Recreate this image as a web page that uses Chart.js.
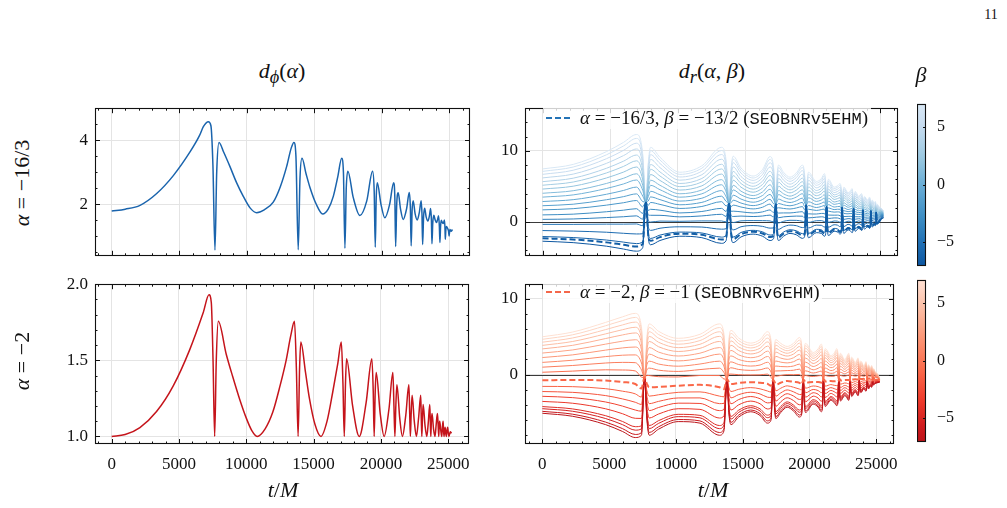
<!DOCTYPE html>
<html>
<head>
<meta charset="utf-8">
<script src="https://cdn.jsdelivr.net/npm/chart.js@4.4.1/dist/chart.umd.min.js"></script>
<style>
body { margin: 0; background: #fff; width: 1007px; height: 508px; position: relative; overflow: hidden; font-family: 'Liberation Serif', serif; color: #111; }
canvas { position: absolute; }
.lbl { position: absolute; white-space: nowrap; transform: translate(-50%, -50%); font-size: 22px; }
.rot { transform: translate(-50%, -50%) rotate(-90deg); }
.leg { position: absolute; display: flex; align-items: center; white-space: nowrap; font-size: 19px; background: rgba(255,255,255,0.8); padding: 0 3px; }
.leg svg { margin-right: 10px; }
.tt { font-family: 'Liberation Mono', monospace; font-size: 17px; }
i { font-style: italic; }
</style>
</head>
<body>
<canvas id="tl" width="445" height="182" style="left:35px;top:91px"></canvas>
<canvas id="bl" width="445" height="217" style="left:35px;top:267px"></canvas>
<canvas id="tr" width="443" height="182" style="left:465px;top:91px"></canvas>
<canvas id="br" width="443" height="217" style="left:465px;top:267px"></canvas>
<canvas id="cbTop" width="44" height="187" style="left:917px;top:91px"></canvas>
<canvas id="cbBot" width="44" height="187" style="left:917px;top:267px"></canvas>

<div class="lbl" style="left:991px;top:15px;font-size:14px">11</div>
<div class="lbl" style="left:282px;top:73px"><i>d</i><sub><i>ϕ</i></sub>(<i>α</i>)</div>
<div class="lbl" style="left:712px;top:73px"><i>d</i><sub><i>r</i></sub>(<i>α</i>, <i>β</i>)</div>
<div class="lbl" style="left:921px;top:75px"><i>β</i></div>
<div class="lbl rot" style="left:22px;top:183px"><i>α</i> = −16/3</div>
<div class="lbl rot" style="left:22px;top:361px"><i>α</i> = −2</div>
<div class="lbl" style="left:283px;top:490px"><i>t</i>/<i>M</i></div>
<div class="lbl" style="left:713px;top:490px"><i>t</i>/<i>M</i></div>

<div class="leg" style="left:543px;top:107px">
  <svg width="24" height="14"><line x1="0" y1="7" x2="24" y2="7" stroke="#2473b6" stroke-width="2" stroke-dasharray="6 3"/></svg>
  <span><i>α</i> = −16/3, <i>β</i> = −13/2 (<span class="tt">SEOBNRv5EHM</span>)</span>
</div>
<div class="leg" style="left:543px;top:281px">
  <svg width="24" height="14"><line x1="0" y1="7" x2="24" y2="7" stroke="#f4674a" stroke-width="2" stroke-dasharray="6 3"/></svg>
  <span><i>α</i> = −2, <i>β</i> = −1 (<span class="tt">SEOBNRv6EHM</span>)</span>
</div>

<script>
// d_phi, alpha = -16/3
const tPhiA = [0, 1000, 2096, 3333, 4563, 5800, 6500, 6790, 7160, 7350, 7500, 7650, 7780, 7950, 8300, 8763, 9250, 9750, 10250, 10740,
  11300, 11970, 12500, 12960, 13300, 13500, 13650, 13820, 13950, 14100, 14400, 14690, 15150, 15630, 16050, 16420, 16750, 17040, 17170, 17280,
  17380, 17500, 17900, 18390, 18900, 19330, 19450, 19530, 19600, 19680, 19950, 20240, 20600, 20890, 20980, 21040, 21120, 21230, 21400, 21600,
  21850, 22050, 22130, 22190, 22260, 22340, 22480, 22640, 22800, 22930, 22990, 23040, 23110, 23190, 23300, 23430, 23550, 23630, 23690, 23730,
  23790, 23870, 23970, 24070, 24150, 24220, 24280, 24320, 24370, 24420, 24500, 24570, 24620, 24660, 24700, 24720, 24760, 24810, 24880, 24960,
  25000, 25060, 25150, 25250];
const dPhiA = [1.78, 1.84, 1.96, 2.33, 2.89, 3.63, 4.14, 4.42, 4.575, 4.45, 3.2, 0.56, 3.0, 3.93, 3.62, 3.17, 2.67, 2.24, 1.88, 1.73,
  1.82, 2.06, 2.55, 3.17, 3.75, 3.93, 3.5, 0.57, 2.8, 3.43, 2.95, 2.52, 2.0, 1.69, 1.85, 2.24, 2.85, 3.43, 3.0, 0.62,
  2.5, 3.03, 2.2, 1.64, 2.1, 3.03, 2.4, 0.65, 2.2, 2.67, 2.0, 1.57, 2.0, 2.67, 2.2, 0.67, 2.0, 2.35, 1.85, 1.52,
  1.85, 2.36, 1.9, 0.69, 1.8, 2.1, 1.7, 1.5, 1.75, 2.1, 1.7, 0.73, 1.6, 1.87, 1.6, 1.47, 1.65, 1.86, 1.5, 0.76,
  1.4, 1.65, 1.5, 1.42, 1.52, 1.63, 1.3, 0.8, 1.3, 1.49, 1.42, 1.39, 1.45, 1.5, 1.2, 0.9, 1.2, 1.3, 1.25, 1.15,
  1.0, 1.2, 1.15, 1.2];

// d_phi, alpha = -2
const tPhiB = [0, 1000, 2096, 3333, 4563, 5800, 6790, 7230, 7400, 7530, 7650, 7770, 7920, 8510, 9000, 9500, 10000, 10400, 10810,
  11400, 11970, 12500, 12960, 13300, 13580, 13720, 13850, 13960, 14050, 14400, 14690, 15100, 15550, 16000, 16420, 16800, 17060, 17180, 17280,
  17370, 17450, 17900, 18390, 18900, 19330, 19430, 19500, 19580, 19650, 19950, 20240, 20600, 20890, 20970, 21040, 21110, 21190, 21400, 21600,
  21850, 22080, 22140, 22190, 22250, 22320, 22480, 22640, 22800, 22960, 23000, 23040, 23090, 23140, 23280, 23410, 23520, 23630, 23670, 23710,
  23750, 23800, 23910, 24020, 24110, 24200, 24250, 24300, 24330, 24370, 24450, 24520, 24570, 24620, 24650, 24690, 24730, 24770, 24820, 24860,
  24910, 24960, 25010, 25060, 25150, 25250];
const dPhiB = [1.0, 1.012, 1.058, 1.163, 1.33, 1.57, 1.81, 1.93, 1.88, 1.5, 1.0, 1.5, 1.756, 1.54, 1.39, 1.246, 1.12, 1.04, 1.0,
  1.05, 1.16, 1.33, 1.5, 1.66, 1.756, 1.45, 1.0, 1.45, 1.62, 1.42, 1.25, 1.08, 1.0, 1.1, 1.29, 1.48, 1.62, 1.35, 1.0,
  1.35, 1.51, 1.2, 1.0, 1.22, 1.51, 1.3, 1.0, 1.3, 1.42, 1.15, 1.0, 1.18, 1.42, 1.2, 1.0, 1.2, 1.34, 1.12, 1.0,
  1.14, 1.34, 1.15, 1.0, 1.15, 1.27, 1.1, 1.0, 1.12, 1.27, 1.12, 1.0, 1.12, 1.21, 1.07, 1.0, 1.09, 1.21, 1.1, 1.0,
  1.1, 1.15, 1.05, 1.0, 1.08, 1.15, 1.08, 1.0, 1.07, 1.1, 1.04, 1.0, 1.06, 1.1, 1.05, 1.0, 1.04, 1.06, 1.02, 1.0,
  1.04, 1.06, 1.02, 1.0, 1.03, 1.02];

// d_r time grid (shared by both right panels)
const tR = [0, 2270, 4740, 6000, 6960, 7420, 7650, 7830, 8000, 8700, 10170, 11800,
  13260, 13600, 13820, 13970, 14120, 14700, 15600, 16300,
  16850, 17120, 17280, 17380, 17480, 17850, 18330, 18800,
  19250, 19420, 19530, 19610, 19700, 20280, 20650,
  20880, 20970, 21040, 21100, 21180, 21600, 21850,
  22040, 22130, 22190, 22250, 22320, 22630, 22780,
  22930, 22990, 23040, 23090, 23160, 23420, 23520,
  23630, 23690, 23730, 23770, 23850, 24060, 24140,
  24220, 24280, 24320, 24360, 24420, 24560,
  24650, 24690, 24720, 24750, 24800, 24900, 25050, 25250];

// alpha = -16/3 : highest beta curve and lowest beta curve
const drAHigh = [7.46, 8.1, 9.9, 11.2, 12.3, 9.6, 2.8, 8.3, 10.5, 9.1, 7.0, 7.9,
  10.5, 8.6, 2.6, 7.6, 9.25, 7.6, 6.46, 7.4,
  9.2, 7.6, 2.5, 6.7, 8.0, 7.0, 6.3, 6.9,
  8.0, 6.5, 2.35, 5.8, 7.0, 5.7, 6.1,
  6.8, 5.6, 2.2, 5.0, 6.0, 4.9, 5.1,
  5.4, 4.5, 2.0, 4.1, 4.9, 4.1, 4.3,
  4.7, 3.9, 1.85, 3.5, 4.3, 3.6, 3.8,
  4.0, 3.4, 1.7, 3.0, 3.6, 3.1, 3.2,
  3.5, 3.0, 1.55, 2.6, 3.1, 2.7,
  2.9, 2.5, 1.4, 2.2, 2.5, 2.2, 2.0, 1.6];
const drALow = [-2.7, -2.9, -3.4, -3.8, -4.1, -3.6, 2.8, -2.2, -3.2, -2.6, -2.0, -2.2,
  -3.0, -2.6, 2.6, -2.0, -2.9, -2.1, -1.7, -2.0,
  -2.6, -2.3, 2.5, -1.7, -2.6, -2.0, -1.6, -1.8,
  -2.3, -2.0, 2.35, -1.3, -2.2, -1.5, -1.6,
  -2.0, -1.7, 2.2, -1.0, -1.9, -1.3, -1.4,
  -1.7, -1.4, 2.0, -0.8, -1.6, -1.1, -1.2,
  -1.5, -1.2, 1.85, -0.6, -1.3, -0.9, -1.0,
  -1.2, -0.9, 1.7, -0.4, -1.0, -0.7, -0.75,
  -0.9, -0.6, 1.55, -0.2, -0.7, -0.4,
  -0.5, -0.3, 1.4, 0.1, -0.3, -0.1, 0.3, 0.6];
// starting value of every drawn line (t = 0), lowest beta first
const drAStart = [-2.7, -2.04, -1.2, -0.33, 0.375, 1.0, 1.71, 2.29, 2.88, 3.5, 4.04, 4.63, 5.17, 5.67, 6.2, 6.7, 7.12, 7.46];
const drADashStart = -2.29;
const betaA = -6.5;

// alpha = -2
const drBHigh = [4.97, 5.6, 6.87, 7.6, 8.06, 6.3, -0.4, 5.0, 6.67, 5.7, 4.77, 5.3,
  6.67, 5.3, -0.6, 4.6, 5.82, 4.8, 4.14, 4.6,
  5.64, 4.5, -0.7, 3.6, 4.6, 4.1, 3.7, 4.1,
  4.87, 3.8, -0.7, 3.2, 4.1, 2.9, 3.4,
  4.0, 3.2, -0.75, 2.6, 3.4, 2.5, 2.8,
  3.4, 2.7, -0.8, 2.1, 2.8, 2.0, 2.3,
  2.8, 2.2, -0.8, 1.6, 2.3, 1.6, 1.8,
  2.2, 1.7, -0.8, 1.1, 1.8, 1.2, 1.3,
  1.7, 1.2, -0.8, 0.7, 1.3, 0.8,
  1.2, 0.8, -0.8, 0.3, 0.8, 0.4, 0.2, -0.5];
const drBLow = [-5.1, -5.5, -6.6, -7.5, -8.3, -8.0, -0.4, -6.0, -8.0, -7.2, -6.2, -6.4,
  -8.0, -7.4, -0.6, -5.2, -6.6, -5.6, -4.9, -5.4,
  -6.4, -6.0, -0.7, -4.4, -5.8, -5.0, -4.3, -4.8,
  -5.6, -5.2, -0.7, -3.8, -5.0, -3.9, -4.3,
  -4.9, -4.5, -0.75, -3.1, -4.2, -3.4, -3.7,
  -4.1, -3.7, -0.8, -2.6, -3.5, -2.8, -3.0,
  -3.4, -3.0, -0.8, -2.2, -2.9, -2.3, -2.5,
  -2.8, -2.4, -0.8, -1.8, -2.4, -1.9, -2.0,
  -2.2, -1.9, -0.8, -1.4, -1.9, -1.5,
  -1.7, -1.4, -0.8, -1.1, -1.4, -1.2, -1.1, -1.0];
const drBStart = [-5.1, -4.85, -4.5, -4.22, -3.54, -2.87, -2.24, -1.56, 0.3, 0.97, 1.6, 2.24, 2.83, 3.38, 3.84, 4.26, 4.64, 4.97];
const drBDashStart = -0.76;
const betaB = -1;

const betaRange = [-7, 7];

// colormaps
const BLUES = ['#f7fbff', '#deebf7', '#c6dbef', '#9ecae1', '#6baed6', '#4292c6', '#2171b5', '#08519c', '#08306b'];
const REDS = ['#fff5f0', '#fee0d2', '#fcbba1', '#fc9272', '#fb6a4a', '#ef3b2c', '#cb181d', '#a50f15', '#67000d'];
function hex(h) { return [1, 3, 5].map(k => parseInt(h.substr(k, 2), 16)); }
function cmap(stops, c) {
  const p = Math.max(0, Math.min(1, c)) * (stops.length - 1);
  const i = Math.min(stops.length - 2, Math.floor(p)), f = p - i;
  const a = hex(stops[i]), b = hex(stops[i + 1]);
  return 'rgb(' + a.map((v, k) => Math.round(v + (b[k] - v) * f)).join(',') + ')';
}
// beta -> colour (low beta dark)
function betaColor(stops, lo, hi, beta) {
  const f = (beta - betaRange[0]) / (betaRange[1] - betaRange[0]);
  return cmap(stops, hi - (hi - lo) * f);
}

function range(a, b, s) { const r = []; for (let v = a; v <= b + 1e-9; v += s) r.push(+v.toFixed(6)); return r; }
const minus = v => String(v).replace('-', '\u2212');

const frameTicks = {
  id: 'frameTicks',
  beforeDatasetsDraw(chart, args, o) {
    const { ctx, chartArea: a, scales } = chart;
    if (o.gradient) {
      const g = ctx.createLinearGradient(0, a.top, 0, a.bottom);
      for (let k = 0; k <= 20; k++) g.addColorStop(k / 20, cmap(o.gradient.stops, o.gradient.lo + (o.gradient.hi - o.gradient.lo) * k / 20));
      ctx.fillStyle = g;
      ctx.fillRect(a.left, a.top, a.width, a.height);
    }
    if (o.zeroLine) {
      const y = Math.round(scales.y.getPixelForValue(0)) + 0.5;
      ctx.save();
      ctx.strokeStyle = '#3a3a3a'; ctx.lineWidth = 1;
      ctx.beginPath(); ctx.moveTo(a.left, y); ctx.lineTo(a.right, y); ctx.stroke();
      ctx.restore();
    }
  },
  afterDraw(chart, args, o) {
    const { ctx, chartArea: a, scales } = chart;
    ctx.save();
    ctx.strokeStyle = '#111'; ctx.lineWidth = 1;
    const seg = (x1, y1, x2, y2) => { ctx.beginPath(); ctx.moveTo(x1, y1); ctx.lineTo(x2, y2); ctx.stroke(); };
    const xs = (vals, len) => (vals || []).forEach(v => {
      const x = Math.round(scales.x.getPixelForValue(v)) + 0.5;
      if (x < a.left || x > a.right) return;
      seg(x, a.bottom, x, a.bottom - len); seg(x, a.top, x, a.top + len);
    });
    const ys = (vals, len, sides) => (vals || []).forEach(v => {
      const y = Math.round(scales.y.getPixelForValue(v)) + 0.5;
      if (y < a.top || y > a.bottom) return;
      if (sides !== 'right') seg(a.left, y, a.left + len, y);
      seg(a.right, y, a.right - len, y);
    });
    xs(o.xMaj, 5); xs(o.xMin, 2.5);
    ys(o.yMaj, o.cb ? 3 : 5, o.cb ? 'right' : 'both'); ys(o.yMin, 2.5, 'both');
    ctx.lineWidth = 1.1;
    ctx.strokeRect(Math.round(a.left) + 0.5, Math.round(a.top) + 0.5, Math.round(a.width) - 1, Math.round(a.height) - 1);
    ctx.restore();
  }
};
Chart.register(frameTicks);

const font = { family: "'Liberation Serif', serif", size: 17 };

function panel(id, datasets, cfg) {
  return new Chart(document.getElementById(id), {
    type: 'line',
    data: { datasets },
    options: {
      responsive: false, animation: false, devicePixelRatio: 1,
      layout: { padding: { top: 10, right: 10, left: 0, bottom: 0 } },
      plugins: {
        legend: { display: false }, tooltip: { enabled: false },
        frameTicks: { xMaj: cfg.xMaj, xMin: cfg.xMin, yMaj: cfg.yMaj, yMin: cfg.yMin, zeroLine: cfg.zeroLine }
      },
      elements: { point: { radius: 0 }, line: { cubicInterpolationMode: 'monotone' } },
      scales: {
        x: {
          type: 'linear', min: cfg.xr[0], max: cfg.xr[1],
          border: { display: false },
          grid: { color: '#e4e4e4', drawTicks: false, lineWidth: 1 },
          afterBuildTicks: s => { s.ticks = cfg.xMaj.map(v => ({ value: v })); },
          afterFit: s => { s.height = cfg.showX ? 40 : 6; },
          ticks: { display: cfg.showX, font, color: '#111', padding: 10, maxRotation: 0, autoSkip: false, callback: v => String(v) }
        },
        y: {
          min: cfg.yr[0], max: cfg.yr[1],
          border: { display: false },
          grid: { color: '#e4e4e4', drawTicks: false, lineWidth: 1 },
          afterBuildTicks: s => { s.ticks = cfg.yMaj.map(v => ({ value: v })); },
          afterFit: s => { s.width = 60; },
          ticks: { font, color: '#111', padding: 7, callback: cfg.yFmt || minus }
        }
      }
    }
  });
}

function colorbar(id, stops, lo, hi) {
  return new Chart(document.getElementById(id), {
    type: 'line',
    data: { datasets: [] },
    options: {
      responsive: false, animation: false, devicePixelRatio: 1,
      layout: { padding: { top: 10, right: 0, left: 0, bottom: 9 } },
      plugins: {
        legend: { display: false }, tooltip: { enabled: false },
        frameTicks: { yMaj: [-5, 0, 5], cb: true, gradient: { stops, lo, hi } }
      },
      scales: {
        x: { display: false, min: 0, max: 1, type: 'linear' },
        y: {
          position: 'right', min: betaRange[0], max: betaRange[1],
          border: { display: false }, grid: { display: false },
          afterBuildTicks: s => { s.ticks = [-5, 0, 5].map(v => ({ value: v })); },
          afterFit: s => { s.width = 35; },
          ticks: { font: { family: "'Liberation Serif', serif", size: 16 }, color: '#111', padding: 3, callback: minus }
        }
      }
    }
  });
}

const pts = (t, v) => t.map((x, i) => ({ x, y: v[i] }));

function family(high, low, starts, dashStart, beta, stops, lo, hi) {
  const h0 = high[0], l0 = low[0];
  const line = s => {
    const w = (s - l0) / (h0 - l0);
    return tR.map((x, i) => ({ x, y: low[i] + w * (high[i] - low[i]) }));
  };
  const n = starts.length;
  const ds = [{ data: line(dashStart), borderColor: betaColor(stops, lo, hi, beta), borderWidth: 2, borderDash: [6, 3] }];
  // darkest (lowest beta) drawn on top, lightest at the bottom
  starts.forEach((s, i) => {
    const b = betaRange[0] + (betaRange[1] - betaRange[0]) * i / (n - 1);
    ds.push({ data: line(s), borderColor: betaColor(stops, lo, hi, b), borderWidth: 1 });
  });
  return ds;
}

const xMajL = range(0, 25000, 5000);
const xMinL = range(-1000, 26000, 1000).filter(v => v % 5000 !== 0);

panel('tl', [{ data: pts(tPhiA, dPhiA), borderColor: '#1a64ad', borderWidth: 1.5 }],
  { xr: [-1240, 26550], yr: [0.38, 5.0], xMaj: xMajL, xMin: xMinL, yMaj: [2, 4], yMin: [0.5, 1, 1.5, 2.5, 3, 3.5, 4.5], showX: false });
panel('bl', [{ data: pts(tPhiB, dPhiB), borderColor: '#c5141b', borderWidth: 1.5 }],
  { xr: [-1240, 26550], yr: [0.95, 2.0], xMaj: xMajL, xMin: xMinL, yMaj: [1.0, 1.5, 2.0], yMin: [1.1, 1.2, 1.3, 1.4, 1.6, 1.7, 1.8, 1.9], showX: true, yFmt: v => v.toFixed(1) });
panel('tr', family(drAHigh, drALow, drAStart, drADashStart, betaA, BLUES, 0.15, 0.85),
  { xr: [-1300, 26330], yr: [-4.75, 16.0], xMaj: xMajL, xMin: xMinL, yMaj: [0, 10], yMin: [-4, -2, 2, 4, 6, 8, 12, 14, 16], showX: false, zeroLine: true });
panel('br', family(drBHigh, drBLow, drBStart, drBDashStart, betaB, REDS, 0.12, 0.8),
  { xr: [-1300, 26330], yr: [-9.15, 11.9], xMaj: xMajL, xMin: xMinL, yMaj: [0, 10], yMin: [-8, -6, -4, -2, 2, 4, 6, 8], showX: true, zeroLine: true });

colorbar('cbTop', BLUES, 0.15, 0.85);
colorbar('cbBot', REDS, 0.12, 0.8);
</script>
</body>
</html>
